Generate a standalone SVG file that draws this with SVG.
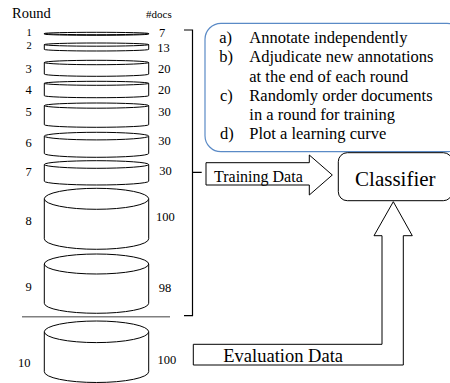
<svg xmlns="http://www.w3.org/2000/svg" width="450" height="383" viewBox="0 0 450 383">
  <style>
    text { font-family: "Liberation Serif", "Times New Roman", serif; fill: #000; }
    .cyl path, .cyl ellipse { fill: #fff; stroke: #000; stroke-width: 1; }
    .rn { font-size: 12.5px; text-anchor: end; }
    .sm { font-size: 10.5px; }
    .dc { font-size: 12.5px; }
    .item { font-size: 16.5px; }
    .conn { fill: none; stroke: #000; stroke-width: 1.2; }
    .barrow { fill: #fff; stroke: #000; stroke-width: 1; }
  </style>

  <rect width="450" height="383" fill="#fff"/>

  <!-- column headers -->
  <text x="12" y="18" font-size="14.5">Round</text>
  <text x="146" y="18" font-size="11">#docs</text>

  <!-- rounds 1-9: training cylinders -->
  <g id="round1" class="cyl">
    <path d="M44.3,33.5 V34.1 A52.2,1.2 0 0 0 148.7,34.1 V33.5"/>
    <ellipse cx="96.5" cy="33.5" rx="52.2" ry="1.2"/>
    <text class="rn sm" x="31.7" y="36">1</text>
    <text class="dc sm" x="159" y="37">7</text>
  </g>
  <g id="round2" class="cyl">
    <path d="M44.3,44.6 V49.4 A52.2,1.6 0 0 0 148.7,49.4 V44.6"/>
    <ellipse cx="96.5" cy="44.6" rx="52.2" ry="1.6"/>
    <text class="rn sm" x="31.7" y="48.5">2</text>
    <text class="dc" x="157.3" y="51.5">13</text>
  </g>
  <g id="round3" class="cyl">
    <path d="M44.3,62.5 V74.1 A52.2,2.2 0 0 0 148.7,74.1 V62.5"/>
    <ellipse cx="96.5" cy="62.5" rx="52.2" ry="2.2"/>
    <text class="rn" x="31.7" y="73">3</text>
    <text class="dc" x="158" y="73">20</text>
  </g>
  <g id="round4" class="cyl">
    <path d="M44.3,83.3 V95.7 A52.2,2 0 0 0 148.7,95.7 V83.3"/>
    <ellipse cx="96.5" cy="83.3" rx="52.2" ry="2"/>
    <text class="rn" x="31.7" y="94">4</text>
    <text class="dc" x="158" y="94">20</text>
  </g>
  <g id="round5" class="cyl">
    <path d="M44.3,105.6 V124.7 A52.2,2.6 0 0 0 148.7,124.7 V105.6"/>
    <ellipse cx="96.5" cy="105.6" rx="52.2" ry="2.6"/>
    <text class="rn" x="31.7" y="116">5</text>
    <text class="dc" x="158.3" y="115.5">30</text>
  </g>
  <g id="round6" class="cyl">
    <path d="M44.3,136.1 V153.5 A52.2,3.8 0 0 0 148.7,153.5 V136.1"/>
    <ellipse cx="96.5" cy="136.1" rx="52.2" ry="3.8"/>
    <text class="rn" x="31.7" y="146.5">6</text>
    <text class="dc" x="158.3" y="145">30</text>
  </g>
  <g id="round7" class="cyl">
    <path d="M44.3,164.5 V181.2 A52.2,3.8 0 0 0 148.7,181.2 V164.5"/>
    <ellipse cx="96.5" cy="164.5" rx="52.2" ry="3.8"/>
    <text class="rn" x="31.7" y="176">7</text>
    <text class="dc" x="159.3" y="175">30</text>
  </g>
  <g id="round8" class="cyl">
    <path d="M44.3,198.8 V238.8 A52.2,10.5 0 0 0 148.7,238.8 V198.8"/>
    <ellipse cx="96.5" cy="198.8" rx="52.2" ry="10.5"/>
    <text class="rn" x="31.7" y="225">8</text>
    <text class="dc" x="156" y="220.7">100</text>
  </g>
  <g id="round9" class="cyl">
    <path d="M44.3,264 V303.3 A52.2,10 0 0 0 148.7,303.3 V264"/>
    <ellipse cx="96.5" cy="264" rx="52.2" ry="10"/>
    <text class="rn" x="31.7" y="291">9</text>
    <text class="dc" x="158.7" y="291.7">98</text>
  </g>

  <!-- split between training and evaluation rounds -->
  <line x1="22" y1="316.7" x2="170" y2="316.7" stroke="#808080" stroke-width="1.5"/>

  <!-- round 10: evaluation cylinder -->
  <g id="round10" class="cyl">
    <path d="M44.3,331.8 V371.7 A52.2,10.8 0 0 0 148.7,371.7 V331.8"/>
    <ellipse cx="96.5" cy="331.8" rx="52.2" ry="10.8"/>
    <text class="rn" x="30.5" y="367">10</text>
    <text class="dc" x="157.5" y="364.3">100</text>
  </g>

  <!-- procedure notes -->
  <g id="notes">
    <rect x="205" y="23.3" width="258" height="128.4" rx="16" ry="16" fill="#fff" stroke="#5a8ac6" stroke-width="1.2"/>
    <text class="item" x="219.3" y="43.3">a)</text>
    <text class="item" x="249.3" y="43.3">Annotate independently</text>
    <text class="item" x="219.3" y="62.4">b)</text>
    <text class="item" x="249.3" y="62.4">Adjudicate new annotations</text>
    <text class="item" x="249.3" y="81.5">at the end of each round</text>
    <text class="item" x="220" y="100.6">c)</text>
    <text class="item" x="249.3" y="100.6">Randomly order documents</text>
    <text class="item" x="249.3" y="119.7">in a round for training</text>
    <text class="item" x="220" y="138.8">d)</text>
    <text class="item" x="249.3" y="138.8">Plot a learning curve</text>
  </g>

  <!-- classifier -->
  <g id="classifier">
    <rect x="338.3" y="152.7" width="114" height="48" rx="9" ry="9" fill="#fff" stroke="#000" stroke-width="1"/>
    <text x="395.3" y="185.5" font-size="21" text-anchor="middle">Classifier</text>
  </g>

  <!-- connectors -->
  <g id="connectors">
    <!-- brace grouping rounds 1-9 -->
    <path class="conn" d="M184,30 H192.5 V315.7 H184 M192.5,172.3 H201.7"/>
    <!-- training data block arrow -->
    <path class="barrow" d="M206,162.7 H309.3 V155 L332.3,175 L309.3,195 V185 H206 Z"/>
    <text x="214" y="181.7" font-size="16">Training Data</text>
    <!-- evaluation data bent block arrow -->
    <path class="barrow" d="M193.3,344.3 H382 V235.7 H374 L393.3,201.7 L412.3,235.7 H403.3 V365 H193.3 Z"/>
    <text x="223.3" y="361.7" font-size="18.5">Evaluation Data</text>
  </g>
</svg>
